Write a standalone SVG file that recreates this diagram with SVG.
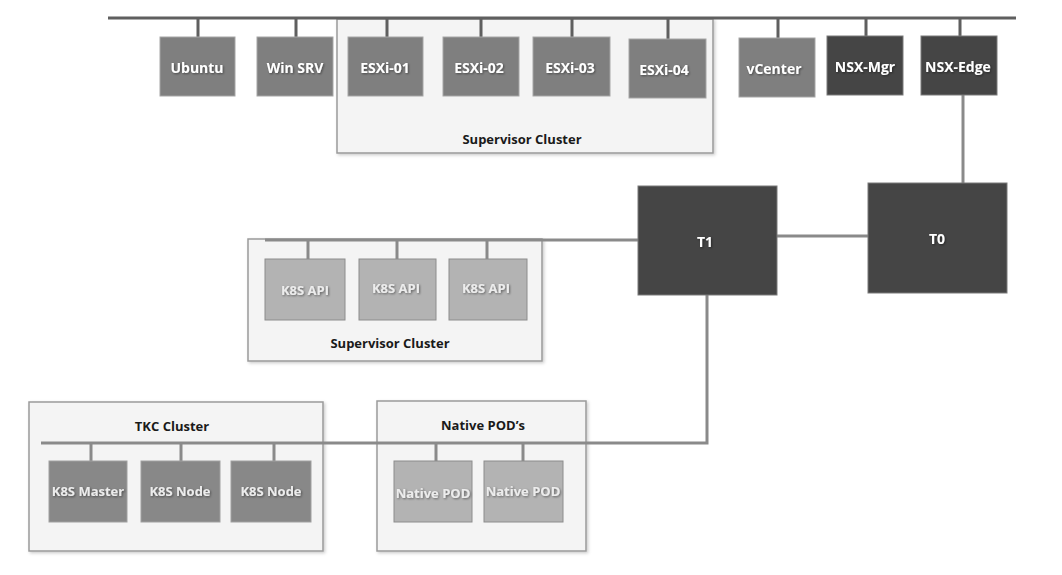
<svg xmlns="http://www.w3.org/2000/svg" width="1062" height="575" viewBox="0 0 1062 575">
<defs>
<filter id="ts" x="-20%" y="-40%" width="140%" height="180%"><feDropShadow dx="1" dy="1" stdDeviation="0.8" flood-color="#000" flood-opacity="0.45"/></filter>
<filter id="bs" x="-5%" y="-5%" width="110%" height="110%"><feDropShadow dx="1.5" dy="1.5" stdDeviation="1.5" flood-color="#000" flood-opacity="0.2"/></filter>
</defs>
<style>
.cont{fill:#f4f4f4;stroke:#9a9a9a;stroke-width:1.5}
.mid{fill:#7f7f7f;stroke:#a6a6a6;stroke-width:1}
.dark{fill:#454545;stroke:#7a7a7a;stroke-width:1}
.light{fill:#b3b3b3;stroke:#8c8c8c;stroke-width:1}
.med2{fill:#888888;stroke:#a0a0a0;stroke-width:1}
.t{font-family:"Open Sans","Liberation Sans",sans-serif;font-weight:bold;font-size:14px;fill:#fff;text-anchor:middle;dominant-baseline:central}
.tl{font-family:"Open Sans","Liberation Sans",sans-serif;font-weight:bold;font-size:13px;fill:#ececec;text-anchor:middle;dominant-baseline:central}
.ct{font-family:"Open Sans","Liberation Sans",sans-serif;font-weight:bold;font-size:13px;fill:#1a1a1a;text-anchor:middle;dominant-baseline:central}
.bus{stroke:#5f5f5f;stroke-width:3;fill:none}
.ln{stroke:#8a8a8a;stroke-width:3;fill:none}
</style>
<g id="containers">
<rect id="sup-top" class="cont" x="337" y="19" width="376" height="134" filter="url(#bs)"/>
<rect id="sup-k8s" class="cont" x="248" y="239" width="294" height="122" filter="url(#bs)"/>
<rect id="tkc" class="cont" x="29" y="402" width="294" height="149" filter="url(#bs)"/>
<rect id="native" class="cont" x="377" y="401" width="209" height="150" filter="url(#bs)"/>
<text class="ct" x="522" y="139">Supervisor Cluster</text>
<text class="ct" x="390" y="343">Supervisor Cluster</text>
<text class="ct" x="172" y="426">TKC Cluster</text>
<text class="ct" x="483" y="425">Native POD’s</text>
</g>
<g id="connectors">
<path class="bus" d="M108 18H1016"/>
<path class="bus" d="M198 18V37M296 18V37M387 18V37M481 18V37M572 18V37M668 18V39M778 18V38M866 18V36M960 18V36"/>
<path class="ln" d="M963 95V183"/>
<path class="ln" d="M777 236H868"/>
<path class="ln" d="M265 240H638"/>
<path class="ln" d="M308 240V259M397 240V259M487 240V259"/>
<path class="ln" d="M707 295V443H41"/>
<path class="ln" d="M91 443V461M181 443V461M274 443V461M436 443V461M523 443V461"/>
</g>
<g id="ubuntu"><rect class="mid" x="160" y="37" width="75" height="59"/><text class="t" x="197" y="67" filter="url(#ts)">Ubuntu</text></g>
<g id="winsrv"><rect class="mid" x="257" y="37" width="76" height="59"/><text class="t" x="295" y="67" filter="url(#ts)">Win SRV</text></g>
<g id="esxi01"><rect class="mid" x="348" y="37" width="75" height="59"/><text class="t" x="385" y="67" filter="url(#ts)">ESXi-01</text></g>
<g id="esxi02"><rect class="mid" x="443" y="37" width="76" height="59"/><text class="t" x="479" y="67" filter="url(#ts)">ESXi-02</text></g>
<g id="esxi03"><rect class="mid" x="533" y="37" width="77" height="59"/><text class="t" x="570" y="67" filter="url(#ts)">ESXi-03</text></g>
<g id="esxi04"><rect class="mid" x="629" y="39" width="77" height="59"/><text class="t" x="664" y="69" filter="url(#ts)">ESXi-04</text></g>
<g id="vcenter"><rect class="mid" x="739" y="38" width="76" height="59"/><text class="t" x="774" y="68" filter="url(#ts)">vCenter</text></g>
<g id="nsxmgr"><rect class="dark" x="827" y="36" width="76" height="59"/><text class="t" x="865" y="66" filter="url(#ts)">NSX-Mgr</text></g>
<g id="nsxedge"><rect class="dark" x="921" y="36" width="76" height="59"/><text class="t" x="958" y="66" filter="url(#ts)">NSX-Edge</text></g>
<g id="t0"><rect class="dark" x="868" y="183" width="139" height="110"/><text class="t" x="937" y="238" font-size="16" filter="url(#ts)">T0</text></g>
<g id="t1"><rect class="dark" x="638" y="186" width="139" height="109"/><text class="t" x="705" y="241" font-size="13" filter="url(#ts)">T1</text></g>
<g id="k8sapi1"><rect class="light" x="265" y="259" width="80" height="61"/><text class="tl" x="305" y="290" filter="url(#ts)">K8S API</text></g>
<g id="k8sapi2"><rect class="light" x="359" y="259" width="77" height="61"/><text class="tl" x="396" y="288" filter="url(#ts)">K8S API</text></g>
<g id="k8sapi3"><rect class="light" x="449" y="259" width="78" height="61"/><text class="tl" x="486" y="288" filter="url(#ts)">K8S API</text></g>
<g id="k8smaster"><rect class="med2" x="49" y="461" width="78" height="61"/><text class="tl" x="88" y="491" filter="url(#ts)">K8S Master</text></g>
<g id="k8snode1"><rect class="med2" x="141" y="461" width="79" height="61"/><text class="tl" x="180" y="491" filter="url(#ts)">K8S Node</text></g>
<g id="k8snode2"><rect class="med2" x="231" y="461" width="80" height="61"/><text class="tl" x="271" y="491" filter="url(#ts)">K8S Node</text></g>
<g id="nativepod1"><rect class="light" x="394" y="461" width="78" height="61"/><text class="tl" x="433" y="493" filter="url(#ts)">Native POD</text></g>
<g id="nativepod2"><rect class="light" x="484" y="461" width="79" height="61"/><text class="tl" x="523" y="491" filter="url(#ts)">Native POD</text></g>
</svg>
